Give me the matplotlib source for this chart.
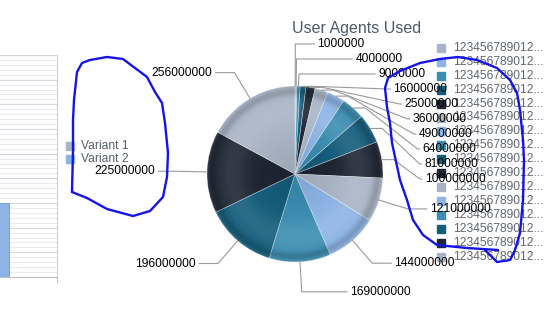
import numpy as np
import matplotlib.pyplot as plt
from matplotlib.patches import Circle, Rectangle

# canvas size in pixels
W, H = 558, 319

# pie data (clockwise from 12 o'clock)
slice_values = [1000000, 4000000, 9000000, 16000000, 25000000, 36000000,
                49000000, 64000000, 81000000, 100000000, 121000000,
                144000000, 169000000, 196000000, 225000000, 256000000]
slice_names = ['123456789012...', '123456789012...', '123456789012...',
               '123456789012...', '123456789012...', '123456789012...',
               '123456789012...', '123456789012...', '123456789012...',
               '123456789012...', '123456789012...', '123456789012...',
               '123456789012...', '123456789012...', '123456789012...',
               '123456789012...']
palette = ['#A9B5C6', '#8DB4E6', '#3B8DB1', '#145D7B', '#1E2634']

# partial bar chart on the left
variant_names = ['Variant 1', 'Variant 2']
variant_values = [22, 15]

# hand-drawn blue marks on the screenshot (pixel coords, y down)
scribble_left = [(72, 192), (73, 150), (73, 120), (74, 100), (77, 72), (82, 63),
                 (90, 60), (107, 57), (123, 59), (135, 68), (147, 77), (155, 92),
                 (162, 103), (165, 123), (168, 153), (167, 177), (163, 197),
                 (150, 211), (133, 216), (107, 209), (87, 198), (72, 192)]
scribble_right = [(498, 250), (467, 248), (437, 245), (423, 235), (413, 220),
                  (407, 200), (400, 180), (395, 157), (392, 143), (390, 123),
                  (387, 107), (385, 88), (388, 78), (400, 71), (420, 63),
                  (440, 59), (458, 57), (477, 60), (497, 68), (510, 80),
                  (517, 93), (520, 110), (523, 140), (524, 160), (523, 200),
                  (520, 233), (515, 250), (510, 260), (497, 262), (485, 250)]

plt.rcParams['font.family'] = ['Liberation Sans', 'DejaVu Sans']
FS = 8.64  # 12px

fig = plt.figure(figsize=(W / 100, H / 100), dpi=100)
ax = fig.add_axes([0, 0, 1, 1])


def fy(y):
    # pixel y (down) -> axes y (up)
    return H - y


# ---- pie ----
cx, cy, R = 295, 174, 88
colors = [palette[i % len(palette)] for i in range(len(slice_values))]
ax.pie(slice_values, colors=colors, startangle=90, counterclock=False,
       center=(cx, fy(cy)), radius=R,
       wedgeprops=dict(edgecolor=(1, 1, 1, 0.45), linewidth=0.5))

# soft radial shading
n = 400
g = np.linspace(-1, 1, n)
X, Y = np.meshgrid(g, g)
r = np.hypot(X, Y)
light = 0.10 * np.exp(-((r - 0.72) / 0.18) ** 2) + 0.08 * np.exp(-((r - 1.0) / 0.025) ** 2)
dark = 0.16 * np.exp(-((r - 0.94) / 0.05) ** 2) + 0.08 * np.exp(-(r / 0.35) ** 2)
alpha = np.clip(light + dark, 1e-6, 1)
shade = np.zeros((n, n, 4))
shade[..., :3] = (light / alpha)[..., None]
shade[..., 3] = alpha
im = ax.imshow(shade, extent=(cx - R, cx + R, fy(cy) - R, fy(cy) + R),
               zorder=3, interpolation='bilinear')
im.set_clip_path(Circle((cx, fy(cy)), R, transform=ax.transData))

# ---- data labels with connectors ----
d, A, sp = 30, 130, 15
vals = np.array(slice_values, dtype=float)
cum = np.cumsum(vals)
mids = np.radians((cum - vals / 2) / vals.sum() * 360)
ny = cy - (R + d) * np.cos(mids)


def stack(idx):
    idx = sorted(idx, key=lambda i: ny[i])
    nat = np.array([ny[i] for i in idx])
    ys = nat.copy()
    for k in range(1, len(ys)):
        ys[k] = max(ys[k], ys[k - 1] + sp)
    # shift crowded groups back up toward their natural spots
    start = 0
    for k in range(1, len(ys) + 1):
        if k == len(ys) or ys[k] > ys[k - 1] + sp + 0.01:
            if k - start > 1:
                ys[start:k] -= np.mean(ys[start:k] - nat[start:k])
                if ys[start] < cy - A:
                    ys[start:k] += (cy - A) - ys[start]
            start = k
    for k in range(1, len(ys)):
        ys[k] = max(ys[k], ys[k - 1] + sp)
    ys = np.minimum(ys, cy + A)
    return dict(zip(idx, ys))


right = [i for i in range(len(vals)) if mids[i] < np.pi]
left = [i for i in range(len(vals)) if mids[i] >= np.pi]
label_y = {**stack(right), **stack(left)}

for i, v in enumerate(slice_values):
    th = mids[i]
    side = 1 if th < np.pi else -1
    y = label_y[i]
    ex, ey = cx + R * np.sin(th), cy - R * np.cos(th)
    tx = cx + side * np.sqrt(max(A ** 2 - (y - cy) ** 2, 0))
    c = np.cos(th)
    t = (cy - y) / c if abs(c) > 1e-9 else np.inf
    if t >= R and np.isfinite(t):
        rx = cx + t * np.sin(th)
        if side > 0:
            tx = max(tx, rx + 22)
            fx = min(rx, tx - 5)
        else:
            tx = min(tx, rx - 22)
            fx = max(rx, tx + 5)
        px = [ex, fx, tx - 3 * side]
        py = [ey, y, y]
    else:
        px = [ex, ex + 12 * side, tx - 5 * side, tx - 3 * side]
        py = [ey, ey, y, y]
    ax.plot(px, [fy(p) for p in py], color='#9a9a9a', lw=0.8, zorder=2)
    ax.text(tx, fy(y), str(v), ha='left' if side > 0 else 'right',
            va='center', fontsize=FS, color='black', zorder=6)

ax.text(357, fy(28), 'User Agents Used', ha='center', va='center',
        fontsize=11.5, color='#4d5b6c')

# ---- legend on the right ----
for i, name in enumerate(slice_names):
    yy = 48 + 13.9 * i
    ax.add_patch(Rectangle((437, fy(yy + 4)), 8, 8, color=colors[i], zorder=5))
    ax.text(453, fy(yy), name, ha='left', va='center', fontsize=FS,
            color='#606770', zorder=5)

# ---- left legend ----
leg_colors = [palette[0], palette[1]]
for i, name in enumerate(variant_names):
    yy = 146 + 13 * i
    ax.add_patch(Rectangle((66, fy(yy + 4)), 7.5, 8, color=leg_colors[i], zorder=5))
    ax.text(81, fy(yy), name, ha='left', va='center', fontsize=FS,
            color='#555d68', zorder=5)

# ---- scribbles ----
for pts in (scribble_left, scribble_right):
    xs, ys = zip(*pts)
    ax.plot(xs, [fy(p) for p in ys], color='#1414e8', lw=1.7,
            solid_capstyle='round', solid_joinstyle='round', zorder=8)

ax.set_xlim(0, W)
ax.set_ylim(0, H)
ax.set_aspect('equal')
ax.axis('off')

# ---- partial bar chart on the left edge ----
ax2 = fig.add_axes([0, (H - 277) / H, 56.5 / W, (277 - 55) / H])
ax2.bar([0.55, 1.0], variant_values, width=0.4, color=leg_colors,
        edgecolor='#6f98c9', linewidth=0.6, zorder=3)
ax2.set_xlim(1.0, 2.25)
ax2.set_ylim(0, 45)
ax2.set_yticks(np.arange(0, 46, 5))
ax2.set_yticks(np.arange(0, 46, 1), minor=True)
ax2.grid(axis='y', which='major', color='#d3d9e0', lw=0.8)
ax2.grid(axis='y', which='minor', color='#e6eaee', lw=0.7)
ax2.tick_params(axis='y', which='both', left=False, labelleft=False)
ax2.set_xticks([2.25])
ax2.set_xticklabels([])
ax2.tick_params(axis='x', length=4, color='#c0c8d0', width=0.8)
for s in ('top', 'left'):
    ax2.spines[s].set_visible(False)
ax2.spines['right'].set_color('#c8d0d8')
ax2.spines['bottom'].set_color('#c0c0c0')

fig.savefig('out.png', dpi=100)
